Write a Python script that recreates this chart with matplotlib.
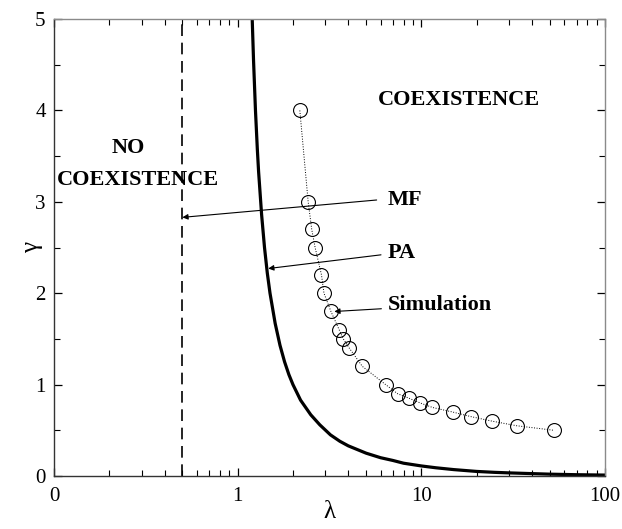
import matplotlib
matplotlib.use("Agg")
import matplotlib.pyplot as plt
from matplotlib.ticker import FixedLocator, FixedFormatter, MultipleLocator

# Simulation data
sim_lambda = [2.18, 2.42, 2.53, 2.64, 2.86, 2.95, 3.22, 3.57, 3.76, 4.05, 4.77,
              6.39, 7.43, 8.59, 9.83, 11.5, 14.8, 18.6, 24.3, 33.0, 52.7]
sim_gamma = [4.0, 3.0, 2.7, 2.5, 2.2, 2.0, 1.8, 1.6, 1.5, 1.4, 1.2,
             1.0, 0.9, 0.85, 0.8, 0.75, 0.7, 0.65, 0.6, 0.55, 0.5]

# PA curve
pa_lambda = [1.2, 1.22, 1.25, 1.28, 1.3, 1.35, 1.4, 1.45, 1.5, 1.6, 1.7, 1.8, 1.9, 2.0,
             2.2, 2.5, 2.8, 3.2, 3.6, 4.0, 5.0, 6.0, 7.0, 8.0, 10.0, 12.0, 15.0,
             20.0, 25.0, 30.0, 40.0, 50.0, 70.0, 100.0]
pa_gamma = [5.0, 4.55, 4.0, 3.57, 3.33, 2.86, 2.5, 2.22, 2.0, 1.67, 1.43, 1.25, 1.11, 1.0,
            0.83, 0.67, 0.56, 0.45, 0.38, 0.33, 0.25, 0.2, 0.17, 0.14, 0.11, 0.09, 0.07,
            0.05, 0.04, 0.034, 0.026, 0.02, 0.014, 0.01]

# MF threshold
mf_lambda = 0.5

xtick_vals = [0.1, 1, 10, 100]
xtick_labels = ["0", "1", "10", "100"]
ytick_vals = [0, 1, 2, 3, 4, 5]

serif = ["Liberation Serif", "DejaVu Serif"]

fig = plt.figure(figsize=(6.22, 5.29), dpi=100)
ax = fig.add_axes([0.0868, 0.1002, 0.8859, 0.8638])

ax.set_xscale("log")
ax.set_xlim(0.1, 100)
ax.set_ylim(0, 5)

ax.axvline(mf_lambda, color="black", lw=1.2, ls=(0, (7, 4)))
ax.plot(pa_lambda, pa_gamma, color="black", lw=2.3, solid_capstyle="butt")
ax.plot(sim_lambda, sim_gamma, color="black", lw=0.7, ls=":",
        marker="o", ms=10, mfc="none", mec="black", mew=0.8)

ax.xaxis.set_major_locator(FixedLocator(xtick_vals))
ax.xaxis.set_major_formatter(FixedFormatter(xtick_labels))
ax.yaxis.set_major_locator(FixedLocator(ytick_vals))
ax.yaxis.set_minor_locator(MultipleLocator(0.5))
ax.tick_params(which="both", direction="in", top=True, right=True)
ax.tick_params(which="major", length=6, width=0.9)
ax.tick_params(which="minor", length=4, width=0.8)
ax.tick_params(axis="x", which="major", pad=8)
ax.tick_params(axis="y", which="major", pad=6)

for lab in ax.get_xticklabels() + ax.get_yticklabels():
    lab.set_fontfamily(serif)
    lab.set_fontsize(15)

ax.set_xlabel("λ", fontsize=18, family=serif, va="center")
ax.set_ylabel("γ", fontsize=18, family=serif, va="center")
ax.xaxis.set_label_coords(0.5, -0.078)
ax.yaxis.set_label_coords(-0.04, 0.5)

for s in ["left", "bottom"]:
    ax.spines[s].set_color("#333333")
    ax.spines[s].set_linewidth(1.0)
for s in ["top", "right"]:
    ax.spines[s].set_color("#8a8a8a")
    ax.spines[s].set_linewidth(1.0)

tfont = dict(family=serif, fontsize=16, fontweight="bold")
ax.text(16.1, 4.11, "COEXISTENCE", ha="center", va="center", **tfont)
ax.text(0.253, 3.59, "NO", ha="center", va="center", **tfont)
ax.text(0.287, 3.24, "COEXISTENCE", ha="center", va="center", **tfont)

aprops = dict(arrowstyle="-|>", lw=0.8, color="black", mutation_scale=8,
              shrinkA=0, shrinkB=0)
ax.annotate("", xy=(0.5, 2.83), xytext=(5.71, 3.02), arrowprops=aprops)
ax.annotate("", xy=(1.467, 2.27), xytext=(6.03, 2.42), arrowprops=aprops)
ax.annotate("", xy=(3.36, 1.80), xytext=(6.06, 1.83), arrowprops=aprops)
ax.text(6.58, 3.02, "MF", ha="left", va="center", **tfont)
ax.text(6.58, 2.44, "PA", ha="left", va="center", **tfont)
ax.text(6.58, 1.87, "Simulation", ha="left", va="center", **tfont)

fig.savefig("out.png", dpi=100)
